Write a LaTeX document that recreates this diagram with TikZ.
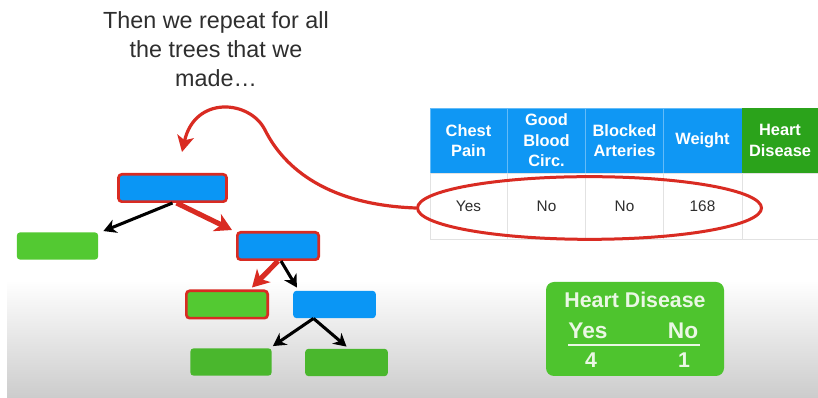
\documentclass[tikz,border=0pt]{standalone}
\usepackage{fontspec}
\setmainfont{Liberation Sans}
\usetikzlibrary{shapes.geometric,arrows.meta,calc}

\definecolor{splitblue}{HTML}{0A96F5}
\definecolor{hdrblue}{HTML}{0F97F4}
\definecolor{leafgreen}{HTML}{53C932}
\definecolor{leafdark}{HTML}{4AB72D}
\definecolor{pathred}{HTML}{D92B22}
\definecolor{targetgreen}{HTML}{2BA31B}
\definecolor{resgreen}{HTML}{4EC42E}
\definecolor{restext}{HTML}{EAF7E4}
\definecolor{inkgray}{HTML}{2E2E2E}
\definecolor{gridgray}{HTML}{E2E2E2}

\begin{document}
\begin{tikzpicture}[x=0.75pt,y=-0.75pt,
  treebox/.style={rectangle, rounded corners=2.5pt, inner sep=0pt,
    minimum width=61pt, minimum height=20.5pt},
  splitnode/.style={treebox, fill=splitblue},
  leafnode/.style={treebox, fill=leafgreen},
  onpath/.style={draw=pathred, line width=2pt},
  blackarrow/.style={draw=black, line width=2.3pt,
    -{Stealth[length=9.5pt,width=10.5pt,inset=3pt]}},
  redarrow/.style={draw=pathred, line width=3.8pt,
    -{Stealth[length=12.5pt,width=14pt,inset=3.5pt]}},
  hdr/.style={rectangle, fill=hdrblue, draw=white!35!hdrblue, line width=0.6pt,
    text=white, align=center, inner sep=0pt, minimum height=48.75pt,
    font=\bfseries\fontsize{12.3}{15.4}\selectfont},
  datacell/.style={rectangle, fill=white, draw=gridgray, line width=0.6pt,
    text=inkgray, inner sep=0pt, minimum height=49.5pt,
    font=\fontsize{11.5}{14}\selectfont},
  restxt/.style={text=restext, inner sep=0pt,
    font=\bfseries\fontsize{16}{18}\selectfont}
]
% canvas
\fill[white] (0,0) rectangle (818,398);
\useasboundingbox (0,0) rectangle (818,398);
\shade[top color=white, bottom color=black!20] (7,280) rectangle (818,398);

% caption
\node[text=inkgray, align=center, inner sep=0pt,
      font=\fontsize{17.5}{21.75}\selectfont] (caption) at (216,49)
  {Then we repeat for all\\the trees that we\\made\ldots};

% data table
\node[hdr, minimum width=57.75pt] (h1) at (468.5,140.5) {Chest\\Pain};
\node[hdr, minimum width=59.25pt] (h2) at (546.5,140.5) {Good\\Blood\\Circ.};
\node[hdr, minimum width=58.5pt]  (h3) at (624.5,140.5) {Blocked\\Arteries};
\node[hdr, minimum width=59.25pt] (h4) at (702.5,140.5) {Weight};
\node[hdr, fill=targetgreen, draw=targetgreen, minimum width=57pt] (h5) at (780,140.5) {Heart\\Disease};
\node[datacell, minimum width=57.75pt] (d1) at (468.5,206) {Yes};
\node[datacell, minimum width=59.25pt] (d2) at (546.5,206) {No};
\node[datacell, minimum width=58.5pt]  (d3) at (624.5,206) {No};
\node[datacell, minimum width=59.25pt] (d4) at (702.5,206) {168};
\node[datacell, minimum width=57pt]    (d5) at (780,206) {};

% highlighted row
\node[ellipse, draw=pathred, line width=2.25pt, inner sep=0pt,
      minimum width=258pt, minimum height=47pt] (sel) at (589.5,208) {};

% decision tree
\node[splitnode, onpath, minimum width=81pt] (root) at (172.5,188) {};
\node[leafnode] (leafA) at (57.5,246) {};
\node[splitnode, onpath] (mid) at (278,246) {};
\node[leafnode, onpath] (leafR) at (227,304.5) {};
\node[splitnode, minimum width=62pt] (split2) at (334.5,304.5) {};
\node[leafnode, fill=leafdark] (leafB1) at (231,362) {};
\node[leafnode, fill=leafdark, minimum width=62pt] (leafB2) at (346.5,362.5) {};

\draw[blackarrow] (root.south) -- ($(leafA.north east)+(5,-1)$);
\draw[redarrow] ($(root.south)+(4,0)$) -- ($(mid.north west)+(-4,-1)$);
\draw[redarrow] (mid.south) -- ($(leafR.north)+(25,-2)$);
\draw[blackarrow] ($(mid.south)+(3,0)$) -- ($(split2.north west)+(4,-3)$);
\draw[blackarrow] ($(split2.south)+(-21,0)$) -- ($(leafB1.north east)+(1,-2)$);
\draw[blackarrow] ($(split2.south)+(-21,0)$) -- ($(leafB2.north)+(0,-2)$);

% curved pointer from the row to the tree
\draw[pathred, line width=2.4pt, -{Stealth[length=12pt,width=12.5pt,inset=3pt]}]
  (sel.west) .. controls (330,205) and (285,170) .. (265,130)
             .. controls (250,100) and (195,95) .. (182,152);

% vote tally
\node[rectangle, rounded corners=6pt, fill=resgreen, inner sep=0pt,
      minimum width=133.5pt, minimum height=70.5pt] (tally) at (635,329) {};
\node[restxt] (tallyhead) at (635,300) {Heart Disease};
\node[restxt, font=\bfseries\fontsize{17}{19}\selectfont] (tyes) at (588,331) {Yes};
\node[restxt, font=\bfseries\fontsize{17}{19}\selectfont] (tno) at (683,331) {No};
\coordinate (ruleL) at (568,345);
\coordinate (ruleR) at (700,345);
\draw[restext, line width=1.8pt] (ruleL) -- (ruleR);
\node[restxt] (tfour) at (591,360) {4};
\node[restxt] (tone) at (684,360) {1};
\end{tikzpicture}
\end{document}
